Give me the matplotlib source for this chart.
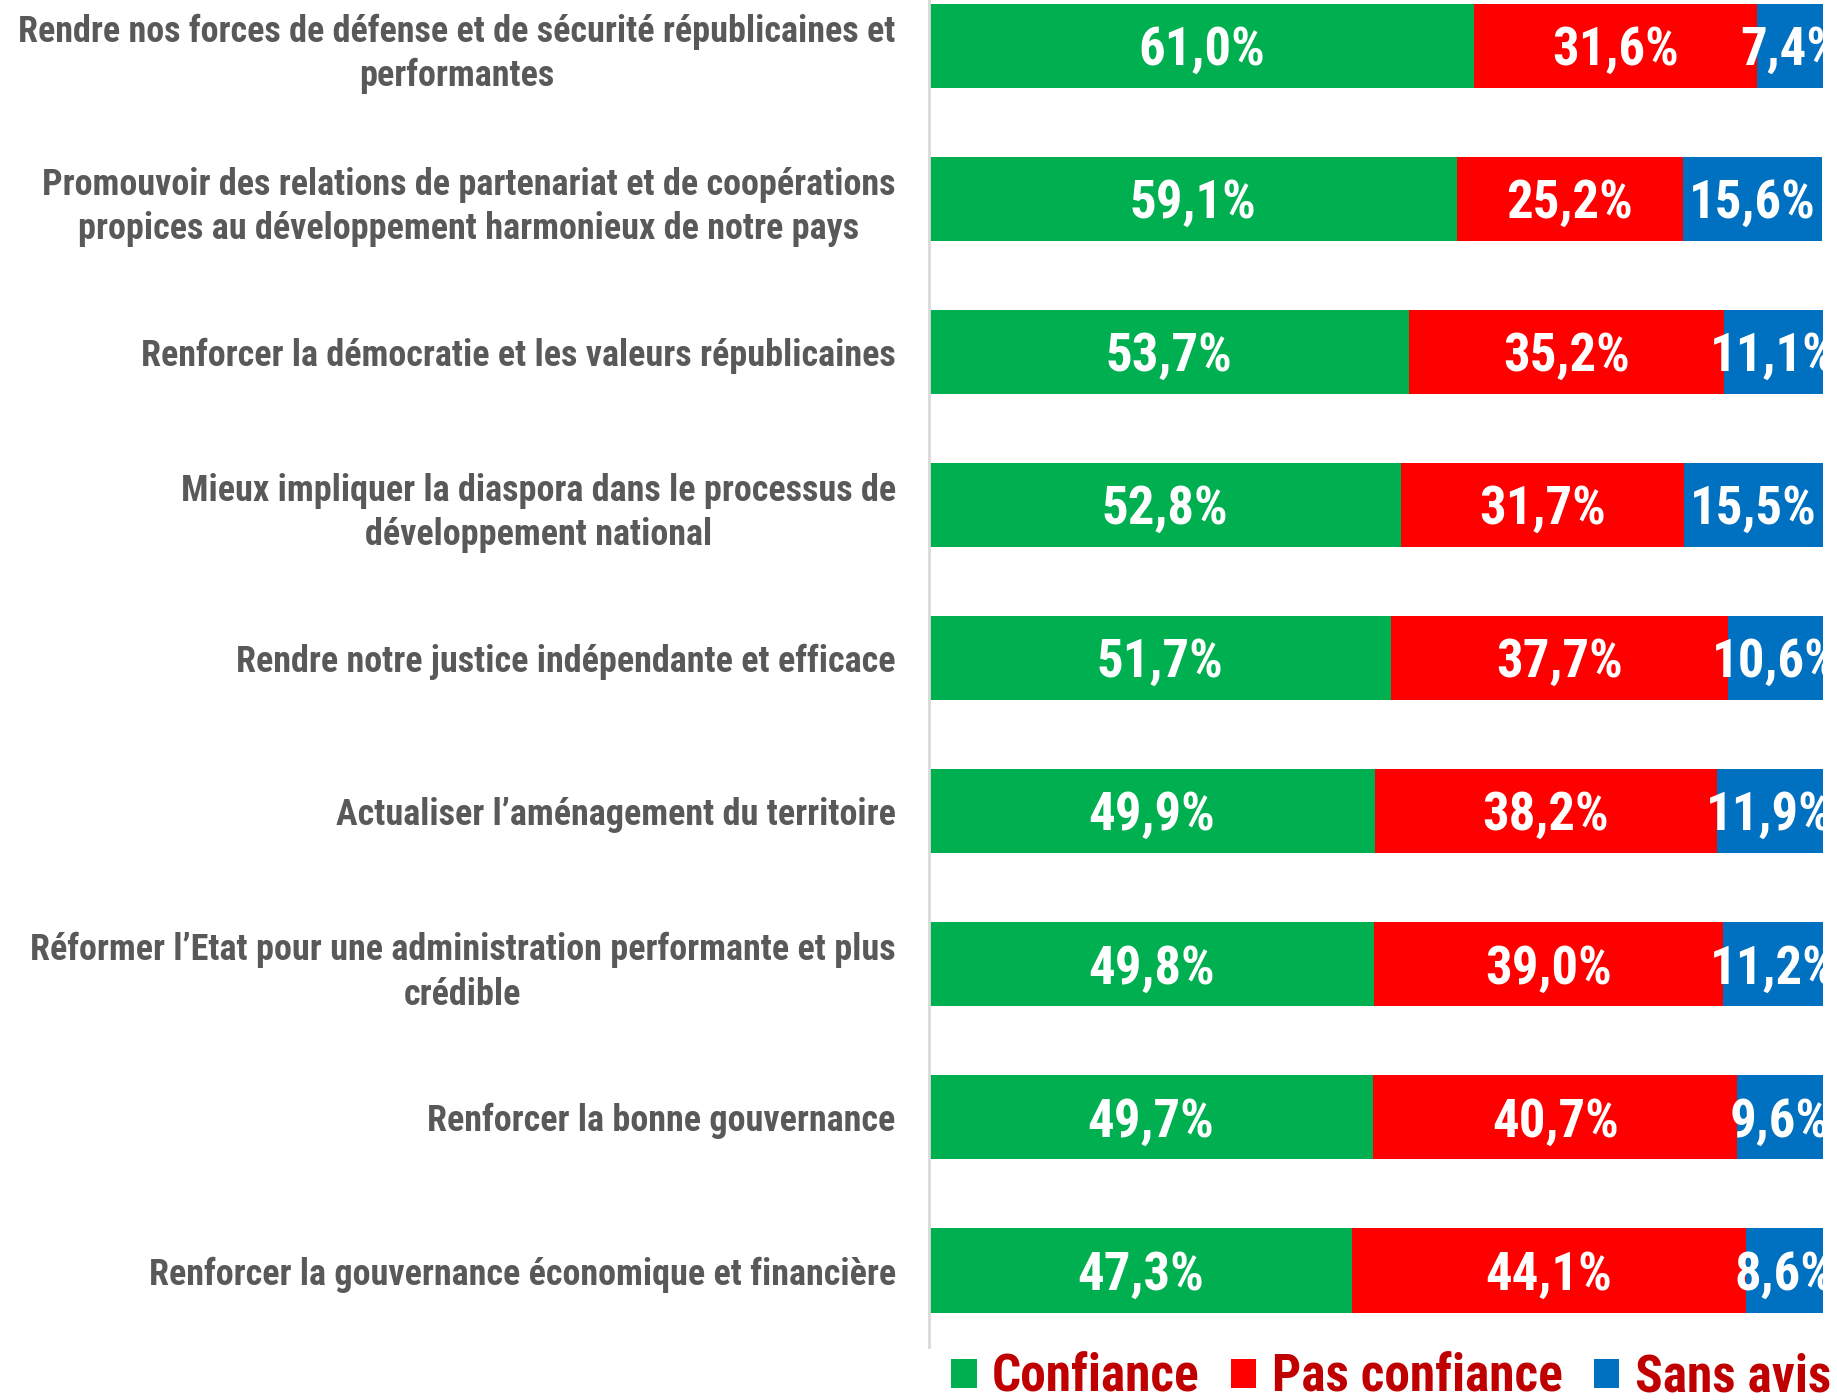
import matplotlib
matplotlib.use('Agg')
import matplotlib.pyplot as plt
from matplotlib import font_manager
from matplotlib.patches import Patch

# Data
categories = [
    "Rendre nos forces de défense et de sécurité républicaines et\nperformantes",
    "Promouvoir des relations de partenariat et de coopérations\npropices au développement harmonieux de notre pays",
    "Renforcer la démocratie et les valeurs républicaines",
    "Mieux impliquer la diaspora dans le processus de\ndéveloppement national",
    "Rendre notre justice indépendante et efficace",
    "Actualiser l’aménagement du territoire",
    "Réformer l’Etat pour une administration performante et plus\ncrédible",
    "Renforcer la bonne gouvernance",
    "Renforcer la gouvernance économique et financière",
]
confiance = [61.0, 59.1, 53.7, 52.8, 51.7, 49.9, 49.8, 49.7, 47.3]
pas_confiance = [31.6, 25.2, 35.2, 31.7, 37.7, 38.2, 39.0, 40.7, 44.1]
sans_avis = [7.4, 15.6, 11.1, 15.5, 10.6, 11.9, 11.2, 9.6, 8.6]
series_names = ["Confiance", "Pas confiance", "Sans avis"]
colors = ["#00B050", "#FF0000", "#0070C0"]

# pick a condensed font if one is installed
installed = {f.name for f in font_manager.fontManager.ttflist}
family = 'Liberation Sans'
for name in ['Liberation Sans Narrow', 'Arial Narrow', 'Roboto Condensed']:
    if name in installed:
        family = name
        break
plt.rcParams['font.family'] = [family, 'DejaVu Sans']

fig = plt.figure(figsize=(18.37, 14), dpi=100)
ax = fig.add_axes([929 / 1837, 53 / 1400, (1823 - 929) / 1837, 1347 / 1400])

y = list(range(len(categories)))
left = [0.0] * len(categories)
for vals, col in zip([confiance, pas_confiance, sans_avis], colors):
    bars = ax.barh(y, vals, left=left, height=0.55, color=col, edgecolor='none')
    for b, v in zip(bars, vals):
        ax.text(b.get_x() + b.get_width() / 2, b.get_y() + b.get_height() / 2 + 0.03,
                f"{v:.1f}%".replace('.', ','), ha='center', va='center',
                color='white', fontsize=38, fontweight='bold')
    left = [l + v for l, v in zip(left, vals)]

ax.set_xlim(0, 100)
ax.set_ylim(8.5, -0.298)
ax.set_yticks(y)
ax.set_yticklabels(categories, fontsize=26, fontweight='bold', color='#595959',
                   multialignment='center', linespacing=1.3)
ax.tick_params(axis='y', length=0, pad=24)
ax.set_xticks([])
for s in ['top', 'right', 'bottom']:
    ax.spines[s].set_visible(False)
ax.spines['left'].set_color('#D9D9D9')
ax.spines['left'].set_linewidth(2)

handles = [Patch(facecolor=c, edgecolor='none') for c in colors]
leg = fig.legend(handles, series_names, loc='center left',
                 bbox_to_anchor=(951 / 1837, 22 / 1400), ncol=3, frameon=False,
                 borderpad=0, borderaxespad=0, handlelength=0.5, handleheight=0.5,
                 handletextpad=0.3, columnspacing=0.6,
                 prop={'size': 37, 'weight': 'bold'})
for t in leg.get_texts():
    t.set_color('#C00000')

fig.savefig('out.png', dpi=100)
plt.close(fig)
